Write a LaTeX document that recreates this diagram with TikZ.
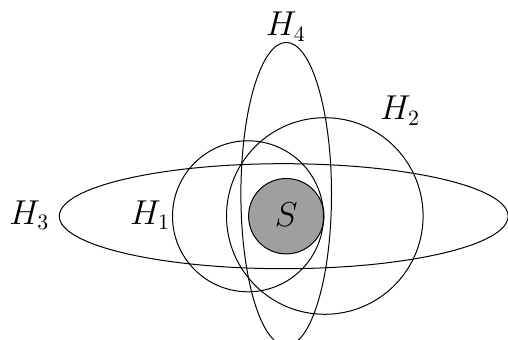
\documentclass[tikz,border=0pt]{standalone}
\begin{document}
\begin{tikzpicture}[x=0.5pt,y=-0.5pt,line width=0.5pt,
  set/.style={draw=black},
  lbl/.style={anchor=base,inner sep=0pt,font=\fontsize{16}{19}\selectfont}]
\useasboundingbox (0,0) rectangle (508,340);
\clip (0,0) rectangle (508,340);
\filldraw[fill=gray!75,draw=black] (286.3,216.2) circle [radius=37.7];
\draw[set] (248,216.3) circle [radius=75.5];
\draw[set] (324.8,216) circle [radius=98.3];
\draw[set] (286.2,194) ellipse [x radius=45.3, y radius=151.6];
\draw[set] (283.7,216.2) ellipse [x radius=224.4, y radius=52.5];
\node[lbl] (S) at (286.3,227) {$S$};
\node[lbl] (h1) at (150,224.3) {$H_1$};
\node[lbl] (h2) at (400,120) {$H_2$};
\node[lbl] (h3) at (29.3,224.3) {$H_3$};
\node[lbl] (h4) at (285.8,36) {$H_4$};
\end{tikzpicture}
\end{document}
